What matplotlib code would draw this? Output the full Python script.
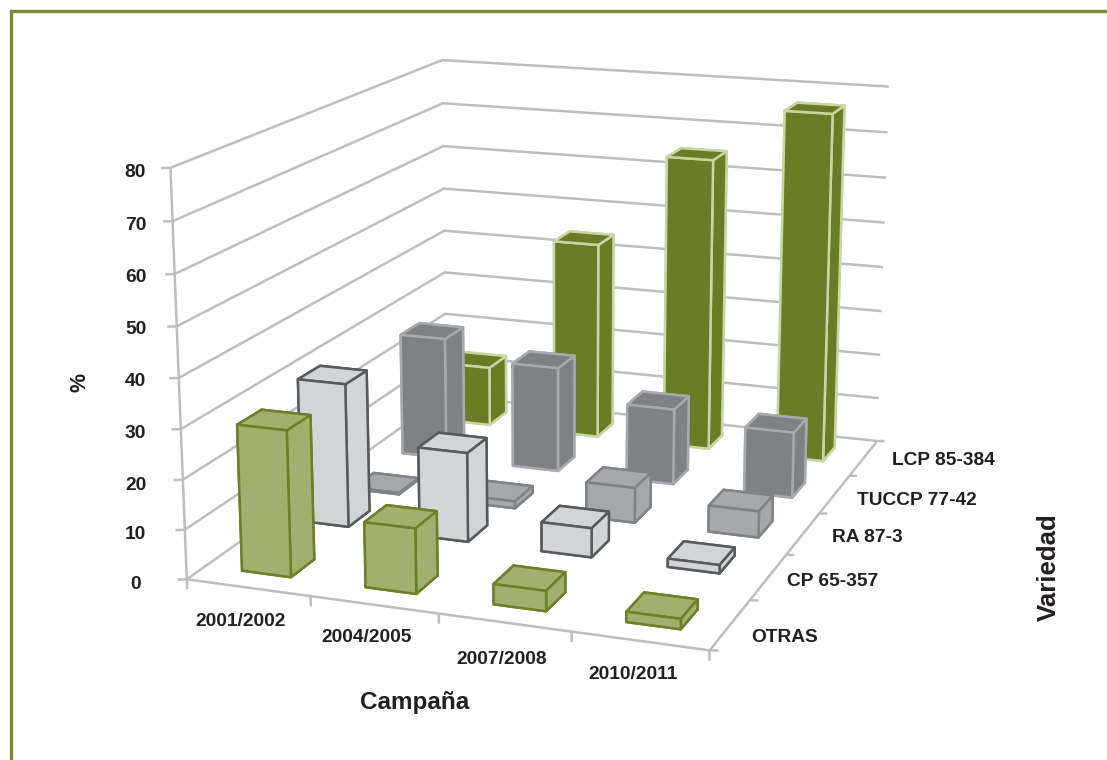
import numpy as np
import matplotlib
matplotlib.use("Agg")
import matplotlib.pyplot as plt
from matplotlib.lines import Line2D

plt.rcParams["font.family"] = ["Liberation Sans", "DejaVu Sans"]
plt.rcParams["font.weight"] = "bold"

W, H = 1107, 760

campaigns = ["2001/2002", "2004/2005", "2007/2008", "2010/2011"]
varieties = ["OTRAS", "CP 65-357", "RA 87-3", "TUCCP 77-42", "LCP 85-384"]
otras = [29.4, 13, 4, 2]
cp_65_357 = [30, 18.5, 6, 1.7]
ra_87_3 = [0.3, 1.5, 7.4, 5.5]
tuccp_77_42 = [27, 23, 16.5, 14.2]
lcp_85_384 = [13.5, 44.2, 65, 76.7]
pct_ticks = [0, 10, 20, 30, 40, 50, 60, 70, 80]

series = [otras, cp_65_357, ra_87_3, tuccp_77_42, lcp_85_384]
face_cols = ["#a2af6f", "#d3d4d6", "#a7a8ab", "#808184", "#6b7c26"]
edge_cols = ["#6d7f27", "#58595b", "#808285", "#a7a9ac", "#c8d6a4"]
GRID = "#bcbec0"
TEXT = "#231f20"
FRAME = "#7a8a30"

BAR_W = 0.40
BAR_D = 0.40
# the CP row sits a little off its cell in the original
row_shift = [(0, 0), (-0.06, 0.15), (0, 0), (0, 0), (0, 0)]

fig = plt.figure(figsize=(W / 100, H / 100), dpi=100, facecolor="white")

# camera fitted to the corners of the box in the picture
side = 883.0
ax = fig.add_axes([105.7 / W, (H - 771.5) / H, side / W, side / H],
                  projection="3d")
ax.set_axis_off()
ax.computed_zorder = False
ax.set_xlim(0, 4, view_margin=0)
ax.set_ylim(0, 5, view_margin=0)
ax.set_zlim(0, 80, view_margin=0)
ax.view_init(14.945, -70.056, 0.008)
ax.set_proj_type("persp", focal_length=0.5396)
ax.set_box_aspect((1, 1.25, 0.7694))

nx, ny = len(campaigns), len(varieties)


def grid_line(xs, ys, zs):
    ax.plot(xs, ys, zs, color=GRID, lw=1.8, zorder=1,
            solid_capstyle="butt", solid_joinstyle="miter")


# walls
for z in pct_ticks:
    grid_line([-0.06, 0, 0, nx], [-0.03, 0, ny, ny], [z, z, z, z])
grid_line([0, 0], [0, 0], [-2, 80])
# floor
grid_line([0, nx, nx], [0, 0, ny], [0, 0, 0])
for i in range(1, nx + 1):
    grid_line([i, i], [0, 0], [0, -2])
for j in range(0, ny + 1):
    grid_line([nx, nx + 0.058], [j, j + 0.02], [0, 0])

# bars, back row first so the near ones cover the far ones
z_ord = 2
for j in range(ny - 1, -1, -1):
    sx, sy = row_shift[j]
    for i in range(nx):
        ax.bar3d(i + 0.5 - BAR_W / 2 + sx, j + 0.5 - BAR_D / 2 + sy, 0,
                 BAR_W, BAR_D, series[j][i],
                 color=face_cols[j], edgecolor=edge_cols[j],
                 linewidth=1.8, shade=False, zorder=z_ord)
        z_ord += 1


def label(px, py, s, **kw):
    kw.setdefault("fontsize", 13.8)
    fig.text(px / W, 1 - (py + 1.5) / H, s, ha="center", va="center",
             color=TEXT, **kw)


pct_y = [583, 533, 484, 432, 380, 328, 276, 224, 171]
for v, py in zip(pct_ticks, pct_y):
    label(135.5, py, str(v))
for s, (px, py) in zip(campaigns, [(241, 620), (367, 636), (502, 658), (633.5, 673)]):
    label(px, py, s)
for s, (px, py) in zip(varieties, [(784.5, 636), (833, 580), (867, 536),
                                   (916.5, 499), (943.5, 459)]):
    label(px, py, s)
label(414.5, 701, "Campaña", fontsize=17.5)
label(1049, 566, "Variedad", fontsize=18.6, rotation=90)
label(80, 381, "%", fontsize=15.5, rotation=90)

# olive frame, top and left only
fig.add_artist(Line2D([11 / W, 11 / W, 1], [0, 1 - 11 / H, 1 - 11 / H],
                      color=FRAME, lw=2.4, solid_joinstyle="miter"))

fig.savefig("out.png", dpi=100)
